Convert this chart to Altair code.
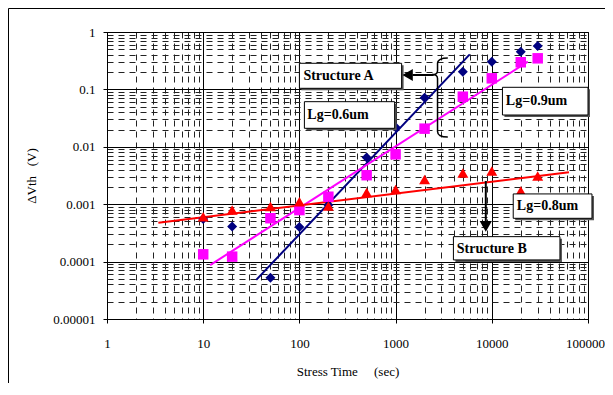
import altair as alt
import pandas as pd

# ---------------- data ----------------
times = [10, 20, 50, 100, 200, 500, 1000, 2000, 5000, 10000, 20000, 30000]
lg06 = [0.00055, 0.00041, 0.0000525, 0.00040, 0.00097, 0.0065, 0.0219, 0.0718, 0.204, 0.304, 0.454, 0.57]
lg09 = [0.000134, 0.000122, 0.00057, 0.00079, 0.00135, 0.0032, 0.0074, 0.0207, 0.0746, 0.156, 0.297, 0.348]
lg08 = [0.000605, 0.00079, 0.00091, 0.0011, 0.00093, 0.0016, 0.0018, 0.0027, 0.0035, 0.0038, 0.0017, 0.0031]

series_names = ["Lg=0.6um", "Lg=0.9um", "Lg=0.8um"]
series_colors = ["#000080", "#FF00FF", "#FF0000"]
series_shapes = ["diamond", "square", "triangle-up"]

# power-law fit lines (start / end points)
fit_x0 = [35.6, 11.8, 3.42]
fit_x1 = [5900, 23700, 63400]
fit_y0 = [0.000048, 0.000087, 0.000476]
fit_y1 = [0.408, 0.304, 0.0036]

# annotation boxes
box_text = ["Structure  A", "Lg=0.6um", "Lg=0.9um", "Lg=0.8um", "Structure  B"]
box_x0 = [100, 112.7, 12900, 16700, 3990]
box_x1 = [1155, 977, 100000, 110000, 51100]
box_y0 = [0.285, 0.0611, 0.1088, 0.00151, 0.000272]
box_y1 = [0.1045, 0.021, 0.0358, 0.000568, 0.000107]
text_x = [110, 121, 14000, 18200, 4320]
text_y = [0.171, 0.0358, 0.0628, 0.000931, 0.000169]

x_ticks = [float(f"{m}e{k}") for k in range(0, 5) for m in range(1, 10)] + [100000.0]
y_ticks = [float(f"{m}e-{k}") for k in range(1, 6) for m in range(1, 10)] + [1.0]

# ---------------- tables ----------------
pts = pd.DataFrame(
    [{"series": s, "t": t, "v": v}
     for s, vals in zip(series_names, [lg06, lg09, lg08])
     for t, v in zip(times, vals)]
)
fits = pd.DataFrame(
    [{"series": s, "t": a, "v": c, "o": 0} for s, a, c in zip(series_names, fit_x0, fit_y0)]
    + [{"series": s, "t": b, "v": d, "o": 1} for s, b, d in zip(series_names, fit_x1, fit_y1)]
)
boxes = pd.DataFrame({"label": box_text, "x0": box_x0, "x1": box_x1, "y0": box_y0,
                      "y1": box_y1, "tx": text_x, "ty": text_y})

FONT = "Liberation Serif, Times New Roman, serif"
is_dec = "abs(log(datum.value)/LN10 - round(log(datum.value)/LN10)) < 0.0001"
grid_dash = {"condition": {"test": is_dec, "value": []}, "value": [6, 5]}
grid_color = {"condition": {"test": is_dec, "value": "#000000"}, "value": "#222222"}
tick_op = {"condition": {"test": is_dec, "value": 1}, "value": 0}
label_expr = f"({is_dec}) ? '' + datum.value : ''"
x_label_offset = {"condition": {"test": "datum.value >= 99999", "value": -3}, "value": 0}

xs = alt.Scale(type="log", domain=[1, 100000], nice=False)
ys = alt.Scale(type="log", domain=[0.00001, 1], nice=False)

xaxis = alt.Axis(values=x_ticks, labelExpr=label_expr, grid=True, gridDash=grid_dash,
                 gridColor=grid_color, gridWidth=1, gridOpacity=1, tickOpacity=tick_op,
                 tickSize=4, tickColor="black", domainColor="black", labelFont=FONT,
                 labelFontSize=13, labelColor="black", labelPadding=14, labelFlush=False,
                 labelOverlap=False, labelOffset=x_label_offset,
                 title="Stress Time\u00a0\u00a0\u00a0\u00a0\u00a0(sec)", titleFont=FONT,
                 titleFontSize=13, titleFontWeight="normal", titleColor="black", titlePadding=15)
yaxis = alt.Axis(values=y_ticks, labelExpr=label_expr, grid=True, gridDash=grid_dash,
                 gridColor=grid_color, gridWidth=1, gridOpacity=1, tickOpacity=tick_op,
                 tickSize=4, tickColor="black", domainColor="black", labelFont=FONT,
                 labelFontSize=13, labelColor="black", labelPadding=8, labelFlush=False,
                 labelOverlap=False,
                 title="\u0394Vth\u00a0\u00a0\u00a0(V)", titleFont=FONT,
                 titleFontSize=13, titleFontWeight="normal", titleColor="black", titlePadding=14)


def X(f):
    return alt.X(f, type="quantitative", scale=xs, axis=xaxis)


def Y(f):
    return alt.Y(f, type="quantitative", scale=ys, axis=yaxis)


color = alt.Color("series:N", scale=alt.Scale(domain=series_names, range=series_colors), legend=None)
shape = alt.Shape("series:N", scale=alt.Scale(domain=series_names, range=series_shapes), legend=None)
size = alt.Size("series:N", scale=alt.Scale(domain=series_names, range=[100, 120, 140]), legend=None)

lines = alt.Chart(fits).mark_line(strokeWidth=2).encode(
    x=X("t"), y=Y("v"), color=color, detail="series:N", order="o:Q")

points = alt.Chart(pts).mark_point(filled=True, opacity=1, strokeWidth=0).encode(
    x=X("t"), y=Y("v"), color=color, shape=shape, size=size)

shadow = alt.Chart(boxes).mark_rect(fill="#555555", xOffset=2, x2Offset=2, yOffset=2, y2Offset=2).encode(
    x=X("x0"), x2="x1", y=Y("y0"), y2="y1")
rects = alt.Chart(boxes).mark_rect(fill="white", stroke="black", strokeWidth=1).encode(
    x=X("x0"), x2="x1", y=Y("y0"), y2="y1")
texts = alt.Chart(boxes).mark_text(font=FONT, fontSize=14, fontWeight="bold", align="left",
                                   baseline="middle", color="black").encode(
    x=X("tx"), y=Y("ty"), text="label:N")

# arrows and brace
arrow_a = alt.Chart(pd.DataFrame({"x0": [2489], "x1": [1500], "y": [0.178]})).mark_rule(
    strokeWidth=2, color="black").encode(x=X("x0"), x2="x1", y=Y("y"))
head_a = alt.Chart(pd.DataFrame({"x": [1334], "y": [0.178]})).mark_point(
    shape="triangle-left", filled=True, color="black", size=144, opacity=1).encode(x=X("x"), y=Y("y"))
arrow_b = alt.Chart(pd.DataFrame({"x": [8660], "y0": [0.00254], "y1": [0.00047]})).mark_rule(
    strokeWidth=2, color="black").encode(x=X("x"), y=Y("y0"), y2="y1")
head_b = alt.Chart(pd.DataFrame({"x": [8660], "y": [0.00041]})).mark_point(
    shape="triangle-down", filled=True, color="black", size=150, opacity=1).encode(x=X("x"), y=Y("y"))

brace_path = ("M 0.18 -1 C 0.02 -1 -0.08 -0.96 -0.08 -0.86 L -0.08 -0.68 "
              "C -0.08 -0.62 -0.12 -0.58 -0.22 -0.58 C -0.12 -0.58 -0.08 -0.54 -0.08 -0.48 "
              "L -0.08 0.86 C -0.08 0.96 0.02 1 0.18 1")
brace = alt.Chart(pd.DataFrame({"x": [2943], "y": [0.0722]})).mark_point(
    shape=brace_path, filled=False, stroke="black", strokeWidth=1.5, size=79 * 79, opacity=1).encode(
    x=X("x"), y=Y("y"))

# outer chart frame (decoration)
frame_top = alt.Chart(alt.Data(values=[{}])).mark_rule(color="black", strokeWidth=1, clip=False).encode(
    x=alt.value(-98.5), x2=alt.value(530), y=alt.value(-23.5))
frame_left = alt.Chart(alt.Data(values=[{}])).mark_rule(color="black", strokeWidth=1, clip=False).encode(
    x=alt.value(-98.5), y=alt.value(-23.5), y2=alt.value(400))

chart = alt.layer(
    lines, points, shadow, rects, texts, arrow_a, head_a, arrow_b, head_b, brace, frame_top, frame_left
).properties(
    width=481, height=287,
    autosize=alt.AutoSizeParams(type="none"),
    padding={"left": 99, "top": 24, "right": 17, "bottom": 64},
    background="white",
).configure_view(stroke="black", strokeWidth=1)

chart.save("out.html", embed_options={"renderer": "svg", "actions": False})
